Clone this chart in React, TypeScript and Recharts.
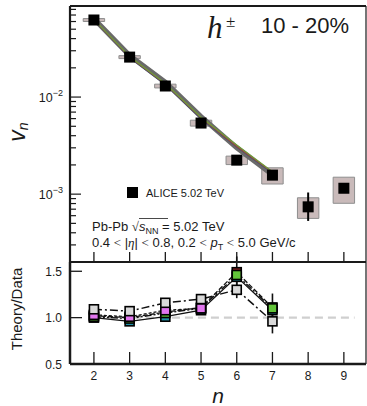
import React from 'react';
import {
  ComposedChart,
  Line,
  Scatter,
  XAxis,
  YAxis,
  ErrorBar,
  ReferenceArea,
  ReferenceLine,
} from 'recharts';

// harmonic orders shown on the x axis
const harmonics = [2, 3, 4, 5, 6, 7, 8, 9];

// ALICE v_n, 10-20%
const aliceVn = [0.0622, 0.0258, 0.013, 0.0054, 0.00224, 0.00157, 0.00074, 0.00115];
const aliceStatLow = [0, 0, 0, 0, 0, 0, 0.00021, 0.00012];
const aliceStatHigh = [0, 0, 0, 0, 0, 0, 0.0003, 0.00014];
const aliceSysRel = [0.035, 0.035, 0.045, 0.07, 0.1, 0.19, 0.24, 0.3];

// model curves, n = 2..7
const modelN = [2, 3, 4, 5, 6, 7];
const modelGrey = [0.064, 0.0268, 0.0142, 0.0063, 0.003, 0.00158];
const modelGreen = [0.0632, 0.0262, 0.0138, 0.0062, 0.0032, 0.0017];
const modelRed = [0.0628, 0.0258, 0.0136, 0.0061, 0.0031, 0.00168];
const modelBlue = [0.0625, 0.0255, 0.0134, 0.006, 0.00305, 0.00165];

// theory / data ratios
const ratioTeal = [1.0, 0.96, 1.01, 1.08, 1.44, 1.08];
const ratioRed = [1.02, 1.0, 1.06, 1.11, 1.49, 1.11];
const ratioGreen = [1.01, 0.99, 1.05, 1.1, 1.46, 1.1];
const ratioMagenta = [1.03, 1.01, 1.08, 1.1, null, null];
const ratioGrey = [1.09, 1.07, 1.16, 1.2, 1.3, 0.96];
const ratioGreenErr = [0.03, 0.03, 0.03, 0.03, 0.2, 0.16];
const ratioGreyErr = [0.03, 0.03, 0.03, 0.03, 0.09, 0.13];

const vnTicks = [
  0.0002, 0.0003, 0.0004, 0.0005, 0.0006, 0.0007, 0.0008, 0.0009, 0.001,
  0.002, 0.003, 0.004, 0.005, 0.006, 0.007, 0.008, 0.009, 0.01,
  0.02, 0.03, 0.04, 0.05, 0.06, 0.07, 0.08,
];
const vnMajor = [0.001, 0.01];
const ratioTicks = [0.5, 1.0, 1.5];

const aliceRows = harmonics.map((n, i) => ({
  n,
  v: aliceVn[i],
  err: [aliceStatLow[i], aliceStatHigh[i]],
}));

const modelRows = modelN.map((n, i) => ({
  n,
  grey: modelGrey[i],
  green: modelGreen[i],
  red: modelRed[i],
  blue: modelBlue[i],
}));

const ratioRows = modelN.map((n, i) => ({
  n,
  teal: ratioTeal[i],
  red: ratioRed[i],
  green: ratioGreen[i],
  magenta: ratioMagenta[i],
  grey: ratioGrey[i],
  greenErr: ratioGreenErr[i],
  greyErr: ratioGreyErr[i],
}));

const SANS = '"Liberation Sans", Arial, sans-serif';
const SERIF = '"Liberation Serif", "Times New Roman", serif';
const INK = '#1a1a1a';
const X_DOMAIN: [number, number] = [1.33, 9.62];

const TopXTick = (props: any) => {
  const { x, y } = props;
  return <line x1={x} x2={x} y1={y} y2={y - 10} stroke={INK} strokeWidth={1.3} />;
};

const BottomXTick = (props: any) => {
  const { x, y, payload } = props;
  return (
    <g>
      <line x1={x} x2={x} y1={y} y2={y - 12} stroke={INK} strokeWidth={1.3} />
      <text x={x} y={y + 16} textAnchor="middle" fontSize={12} fontFamily={SANS} fill={INK}>
        {payload.value}
      </text>
    </g>
  );
};

const VnTick = (props: any) => {
  const { x, y, payload } = props;
  const major = vnMajor.includes(payload.value);
  const exp = Math.round(Math.log10(payload.value));
  return (
    <g>
      <line x1={x} x2={x + (major ? 11 : 6)} y1={y} y2={y} stroke={INK} strokeWidth={1.2} />
      {major && (
        <text x={x - 7} y={y + 5} textAnchor="end" fontSize={12.5} fontFamily={SANS} fill={INK}>
          10
          <tspan dy={-6} fontSize={9}>
            {'\u2212' + Math.abs(exp)}
          </tspan>
        </text>
      )}
    </g>
  );
};

const RatioTick = (props: any) => {
  const { x, y, payload } = props;
  return (
    <g>
      <line x1={x} x2={x + 12} y1={y} y2={y} stroke={INK} strokeWidth={1.3} />
      <text x={x - 8} y={y + 4.5} textAnchor="end" fontSize={12} fontFamily={SANS} fill={INK}>
        {payload.value.toFixed(1)}
      </text>
    </g>
  );
};

const DataSquare = (props: any) => {
  const { cx, cy } = props;
  if (cx == null || cy == null) return null;
  return <rect x={cx - 5.5} y={cy - 5.5} width={11} height={11} fill="#000" />;
};

const squareDot = (fill: string) => (props: any) => {
  const { cx, cy, index, value } = props;
  if (value == null || cx == null || cy == null) return <g key={index} />;
  return (
    <rect
      key={index}
      x={cx - 4.5}
      y={cy - 4.5}
      width={9}
      height={9}
      fill={fill}
      stroke="#000"
      strokeWidth={1.6}
    />
  );
};

export default function App() {
  return (
    <div
      style={{
        position: 'absolute',
        left: 0,
        top: 0,
        width: 367,
        height: 406,
        overflow: 'hidden',
        background: '#fff',
      }}
    >
      {/* upper panel: v_n */}
      <div style={{ position: 'absolute', left: 0, top: 0 }}>
        <ComposedChart
          width={367}
          height={264}
          margin={{ top: 5, right: 0, bottom: 1, left: 69 }}
        >
          <XAxis
            xAxisId="b"
            dataKey="n"
            type="number"
            domain={X_DOMAIN}
            ticks={harmonics}
            interval={0}
            allowDataOverflow
            height={1}
            tickSize={0}
            tickMargin={0}
            tick={<TopXTick />}
            axisLine={{ stroke: INK, strokeWidth: 2 }}
          />
          <XAxis
            xAxisId="t"
            orientation="top"
            type="number"
            domain={X_DOMAIN}
            height={1}
            tick={false}
            tickLine={false}
            axisLine={{ stroke: INK, strokeWidth: 2 }}
          />
          <YAxis
            yAxisId="l"
            scale="log"
            type="number"
            domain={[0.0002, 0.0867]}
            ticks={vnTicks}
            interval={0}
            allowDataOverflow
            width={1}
            tickSize={0}
            tickMargin={0}
            tick={<VnTick />}
            axisLine={{ stroke: INK, strokeWidth: 2.2 }}
          />
          <YAxis
            yAxisId="r"
            orientation="right"
            width={1}
            tick={false}
            tickLine={false}
            axisLine={{ stroke: INK, strokeWidth: 1.2 }}
          />

          {aliceRows.map((row, i) => (
            <ReferenceArea
              key={'sys' + row.n}
              xAxisId="b"
              yAxisId="l"
              x1={row.n - 0.3}
              x2={row.n + 0.3}
              y1={row.v * (1 - aliceSysRel[i])}
              y2={row.v * (1 + aliceSysRel[i])}
              fill="#c9baba"
              fillOpacity={1}
              stroke="#8e8e8e"
              strokeWidth={1}
              ifOverflow="visible"
            />
          ))}

          <Line
            data={modelRows}
            xAxisId="b"
            yAxisId="l"
            dataKey="grey"
            stroke="#6a6a6a"
            strokeWidth={5}
            dot={false}
            isAnimationActive={false}
          />
          <Line
            data={modelRows}
            xAxisId="b"
            yAxisId="l"
            dataKey="blue"
            stroke="#3c4f7a"
            strokeWidth={1.2}
            dot={false}
            isAnimationActive={false}
          />
          <Line
            data={modelRows}
            xAxisId="b"
            yAxisId="l"
            dataKey="red"
            stroke="#9c4a3a"
            strokeWidth={1.2}
            dot={false}
            isAnimationActive={false}
          />
          <Line
            data={modelRows}
            xAxisId="b"
            yAxisId="l"
            dataKey="green"
            stroke="#6f9a3c"
            strokeWidth={1.3}
            dot={false}
            isAnimationActive={false}
          />

          <Scatter
            data={aliceRows}
            xAxisId="b"
            yAxisId="l"
            dataKey="v"
            shape={<DataSquare />}
            isAnimationActive={false}
          >
            <ErrorBar dataKey="err" direction="y" width={0} stroke="#000" strokeWidth={2} />
          </Scatter>
        </ComposedChart>
      </div>

      {/* lower panel: theory / data */}
      <div style={{ position: 'absolute', left: 0, top: 255 }}>
        <ComposedChart
          width={367}
          height={151}
          data={ratioRows}
          margin={{ top: 6, right: 0, bottom: 41, left: 69 }}
        >
          <XAxis
            xAxisId="b"
            dataKey="n"
            type="number"
            domain={X_DOMAIN}
            ticks={harmonics}
            interval={0}
            allowDataOverflow
            height={1}
            tickSize={0}
            tickMargin={0}
            tick={<BottomXTick />}
            axisLine={{ stroke: INK, strokeWidth: 2.5 }}
          />
          <XAxis
            xAxisId="t"
            orientation="top"
            type="number"
            domain={X_DOMAIN}
            height={1}
            tick={false}
            tickLine={false}
            axisLine={{ stroke: INK, strokeWidth: 2 }}
          />
          <YAxis
            yAxisId="l"
            type="number"
            domain={[0.5, 1.6]}
            ticks={ratioTicks}
            interval={0}
            allowDataOverflow
            width={1}
            tickSize={0}
            tickMargin={0}
            tick={<RatioTick />}
            axisLine={{ stroke: INK, strokeWidth: 2.5 }}
          />
          <YAxis
            yAxisId="r"
            orientation="right"
            width={1}
            tick={false}
            tickLine={false}
            axisLine={{ stroke: INK, strokeWidth: 1.2 }}
          />

          <ReferenceLine
            xAxisId="b"
            yAxisId="l"
            segment={[
              { x: 2, y: 1 },
              { x: 9.3, y: 1 },
            ]}
            stroke="#cfcfcf"
            strokeWidth={2.2}
            strokeDasharray="8 5"
          />

          <Line
            xAxisId="b"
            yAxisId="l"
            dataKey="teal"
            stroke="#111"
            strokeWidth={1.3}
            dot={squareDot('#1f8fa6')}
            isAnimationActive={false}
          />
          <Line
            xAxisId="b"
            yAxisId="l"
            dataKey="red"
            stroke="#111"
            strokeWidth={1.3}
            strokeDasharray="5 2"
            dot={squareDot('#8a1c1c')}
            isAnimationActive={false}
          />
          <Line
            xAxisId="b"
            yAxisId="l"
            dataKey="green"
            stroke="#111"
            strokeWidth={1.4}
            strokeDasharray="7 2 2 2 2 2"
            dot={squareDot('#62c43a')}
            isAnimationActive={false}
          >
            <ErrorBar dataKey="greenErr" direction="y" width={0} stroke="#111" strokeWidth={1.6} />
          </Line>
          <Line
            xAxisId="b"
            yAxisId="l"
            dataKey="magenta"
            stroke="#111"
            strokeWidth={1.3}
            strokeDasharray="3 2"
            dot={squareDot('#e276ef')}
            isAnimationActive={false}
          />
          <Line
            xAxisId="b"
            yAxisId="l"
            dataKey="grey"
            stroke="#111"
            strokeWidth={1.5}
            strokeDasharray="8 3 2 3"
            dot={squareDot('#d9d9d9')}
            isAnimationActive={false}
          >
            <ErrorBar dataKey="greyErr" direction="y" width={0} stroke="#111" strokeWidth={1.6} />
          </Line>
        </ComposedChart>
      </div>

      {/* labels and annotations */}
      <svg
        width={367}
        height={406}
        style={{ position: 'absolute', left: 0, top: 0, pointerEvents: 'none' }}
      >
        <text
          x={25}
          y={132}
          transform="rotate(-90 25 132)"
          textAnchor="middle"
          fontFamily={SANS}
          fontStyle="italic"
          fontSize={23}
          fill={INK}
        >
          v
          <tspan fontSize={14} dy={3}>
            n
          </tspan>
        </text>
        <text
          x={22}
          y={309}
          transform="rotate(-90 22 309)"
          textAnchor="middle"
          fontFamily={SANS}
          fontSize={15}
          fill={INK}
        >
          Theory/Data
        </text>
        <text x={218} y={403} textAnchor="middle" fontFamily={SANS} fontStyle="italic" fontSize={21} fill={INK}>
          n
        </text>

        <text x={207} y={38} fontFamily={SERIF} fontStyle="italic" fontSize={31} fill={INK}>
          h
        </text>
        <text x={226} y={27} fontFamily={SERIF} fontSize={17} fill={INK}>
          ±
        </text>
        <text x={261} y={33} fontFamily={SANS} fontSize={22} fill={INK}>
          10 - 20%
        </text>

        <rect x={127} y={187} width={11} height={11} fill="#000" />
        <text x={146} y={197} fontFamily={SANS} fontSize={11} fill={INK}>
          ALICE 5.02 TeV
        </text>

        <text x={92} y={231} fontFamily={SANS} fontSize={13} fill={INK}>
          Pb-Pb{' '}
          <tspan fontFamily={SERIF}>√</tspan>
          <tspan fontStyle="italic">s</tspan>
          <tspan fontSize={9} dy={3}>
            NN
          </tspan>
          <tspan dy={-3}> = 5.02 TeV</tspan>
        </text>
        <line x1={139} x2={168} y1={218.5} y2={218.5} stroke={INK} strokeWidth={0.8} />
        <text x={92} y={247} fontFamily={SANS} fontSize={13} fill={INK}>
          0.4 <tspan fontFamily={SERIF}>{'<'}</tspan> |
          <tspan fontFamily={SERIF} fontStyle="italic">
            η
          </tspan>
          | <tspan fontFamily={SERIF}>{'<'}</tspan> 0.8, 0.2{' '}
          <tspan fontFamily={SERIF}>{'<'}</tspan>{' '}
          <tspan fontStyle="italic">p</tspan>
          <tspan fontSize={9} dy={3}>
            T
          </tspan>
          <tspan dy={-3}> </tspan>
          <tspan fontFamily={SERIF}>{'<'}</tspan> 5.0 GeV/c
        </text>
      </svg>
    </div>
  );
}
